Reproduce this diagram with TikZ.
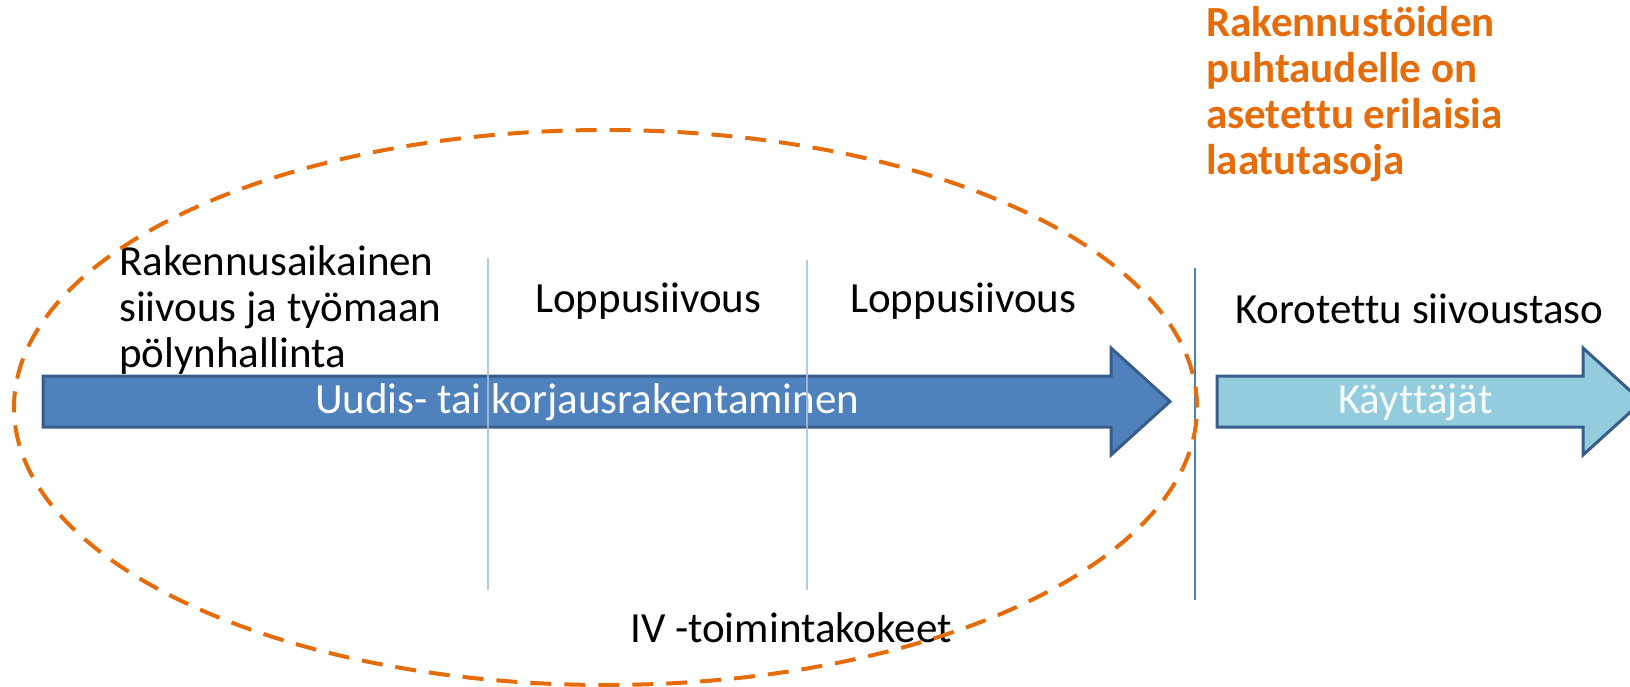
\documentclass[tikz,border=0pt]{standalone}
\usepackage{fontspec}
\setmainfont{Carlito}[Ligatures=CommonOff,RawFeature={-calt}]
\definecolor{arrowblue}{RGB}{79,129,189}
\definecolor{arrowedge}{RGB}{56,93,138}
\definecolor{arrowlight}{RGB}{147,205,221}
\definecolor{noteorange}{RGB}{228,108,10}
\definecolor{seplight}{RGB}{167,191,222}
\definecolor{sepdark}{RGB}{74,126,187}
\begin{document}
\begin{tikzpicture}[x=1pt,y=-1pt,
  txt/.style={font=\fontsize{43}{46}\selectfont, inner sep=0pt, anchor=base west, text=black},
  arrowshape/.style={draw=arrowedge, line width=3pt, line join=miter},
  sepA/.style={draw=seplight, line width=2.2pt},
  sepB/.style={draw=sepdark, line width=2pt},
  ell/.style={draw=noteorange, line width=4pt, dash pattern=on 21pt off 13pt}]
\useasboundingbox (0,0) rectangle (1630,687);
\clip (0,0) rectangle (1630,687);
% arrows
\draw[arrowshape, fill=arrowblue] (43,376) -- (1111,376) -- (1111,348) -- (1170,401.5) -- (1111,455) -- (1111,427) -- (43,427) -- cycle;
\draw[arrowshape, fill=arrowlight] (1217,376) -- (1583,376) -- (1583,348) -- (1642,401.5) -- (1583,455) -- (1583,427) -- (1217,427) -- cycle;
% texts
\node[txt] (rak) at (119,275) {\vtop{\baselineskip=46pt\hbox{Rakennusaikainen}\hbox{siivous ja työmaan}\hbox{pölynhallinta}}};
\node[txt] (lop1) at (535,312) {Loppusiivous};
\node[txt] (lop2) at (850,312) {Loppusiivous};
\node[txt] (kor) at (1235,323) {Korotettu siivoustaso};
\node[txt, text=white] (uud) at (315,413) {Uudis- tai korjausrakentaminen};
\node[txt, text=white!92!arrowlight] (kay) at (1338,413) {Käyttäjät};
\node[txt] (iv) at (630,642) {IV -toimintakokeet};
\node[txt, text=noteorange] (note) at (1206,37) {\vtop{\bfseries\baselineskip=46pt\hbox{Rakennustöiden}\hbox{puhtaudelle on}\hbox{asetettu erilaisia}\hbox{laatutasoja}}};
% separator lines
\coordinate (s1t) at (488,258); \coordinate (s1b) at (488,590);
\coordinate (s2t) at (807,260); \coordinate (s2b) at (807,590);
\coordinate (s3t) at (1195,268); \coordinate (s3b) at (1195,600);
\draw[sepA, opacity=0.85] (s1t) -- (s1b);
\draw[sepA, opacity=0.85] (s2t) -- (s2b);
\draw[sepB] (s3t) -- (s3b);
% dashed ellipse
\draw[ell] (605.5,407.5) ellipse [x radius=591.5pt, y radius=277.5pt];
\end{tikzpicture}
\end{document}
